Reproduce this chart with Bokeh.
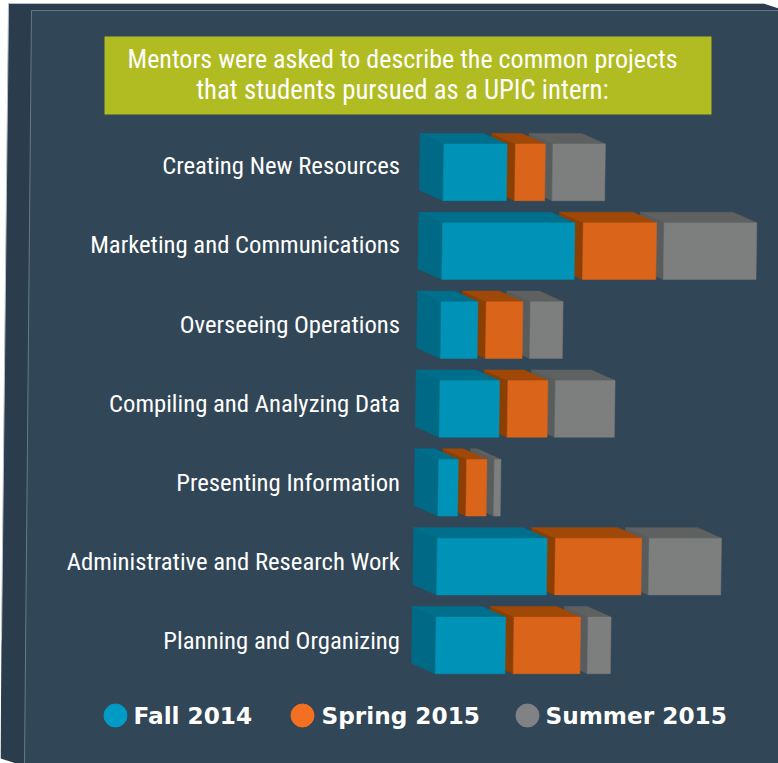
from bokeh.plotting import figure
from bokeh.embed import file_html
from bokeh.resources import INLINE
from bokeh.models import Range1d
from bokeh.core.properties import value

categories = ["Creating New Resources", "Marketing and Communications", "Overseeing Operations",
              "Compiling and Analyzing Data", "Presenting Information",
              "Administrative and Research Work", "Planning and Organizing"]
fall_2014 = [63.2, 132.3, 36.6, 59.6, 19.6, 109.7, 69.6]
spring_2015 = [30, 73.4, 36.7, 40, 20.3, 86.3, 66.6]
summer_2015 = [52.5, 92.7, 32.7, 59.7, 6.6, 72.3, 23]
series_names = ["Fall 2014", "Spring 2015", "Summer 2015"]
title_lines = ["Mentors were asked to describe the common projects",
               "that students pursued as a UPIC intern:"]

BG = "#314656"
front = ["#0093b7", "#d9641a", "#7d7f7e"]
top = ["#006f8c", "#a04808", "#5f6161"]
side = ["#006a86", "#8c3f02", "#595c5d"]
legend_col = ["#009bc4", "#f36f21", "#808285"]
FONT = value("Roboto Condensed")

p = figure(width=778, height=763, output_backend="svg", toolbar_location=None,
           x_range=Range1d(0, 778), y_range=Range1d(763, 0),
           min_border=0, min_border_left=0, min_border_right=0, min_border_top=0, min_border_bottom=0,
           background_fill_color="white", border_fill_color="white", outline_line_color=None)
p.axis.visible = False
p.grid.visible = False
p.styles = {"position": "absolute", "left": "0px", "top": "0px"}

# panel: dark sides, then the front face with its light edge
p.patch([8, 763, 778, 778, 16, 0, 1], [3, 3, 8, 763, 763, 758, 640], color="#2b3c4c", line_width=0)
p.patch([31, 778, 778, 24], [10, 10, 763, 763], color=BG, line_width=0)
p.line([24, 31, 778], [763, 10, 10], line_color="#66798a", line_width=1)
p.line([1, 8, 763], [640, 3, 3], line_color="#b9c0c6", line_width=1)

# title box
p.patch([104, 711, 711, 104], [36, 36, 114, 114], color="#b1bb22", line_width=0)
p.text([402], [58], text=title_lines[:1], text_color="white", text_align="center",
       text_baseline="middle", text_font=FONT, text_font_size="26px")
p.text([402], [89], text=title_lines[1:], text_color="white", text_align="center",
       text_baseline="middle", text_font=FONT, text_font_size="26.8px")

DX, DY, H, SK = 23.8, 10.6, 56.7, 0.8
GAPS = [8.3, 7.5, 0]
for r, name in enumerate(categories):
    x0 = 443.4 - r * 1.3
    yt = 143.5 + r * 78.85
    yb = yt + H
    widths = [fall_2014[r], spring_2015[r], summer_2015[r]]
    lefts = []
    x = x0
    for w, g in zip(widths, GAPS):
        lefts.append(x)
        x += w + g
    for i in (2, 1, 0):
        l, w = lefts[i], widths[i]
        p.patch([l, l - DX, l - DX - SK, l - SK], [yt, yt - DY, yb - DY, yb], color=side[i], line_width=0.5)
        p.patch([l, l + w, l + w - DX, l - DX], [yt, yt, yt - DY, yt - DY], color=top[i], line_width=0.5)
        p.patch([l, l + w, l + w - SK, l - SK], [yt, yt, yb, yb], color=front[i], line_width=0.5)
    p.text([399.5], [165.3 + r * 79.1], text=[name], text_color="white", text_align="right",
           text_baseline="middle", text_font=FONT, text_font_size="24.7px")

# legend
lx = [115, 302, 527]
tx = [133, 321, 545]
p.ellipse(lx, [715] * 3, width=23, height=23, color=legend_col)
p.text(tx, [715] * 3, text=series_names, text_color="white", text_baseline="middle",
       text_font=value("DejaVu Sans"), text_font_style="bold", text_font_size="23.2px")

open("out.html", "w").write(file_html(p, INLINE))
